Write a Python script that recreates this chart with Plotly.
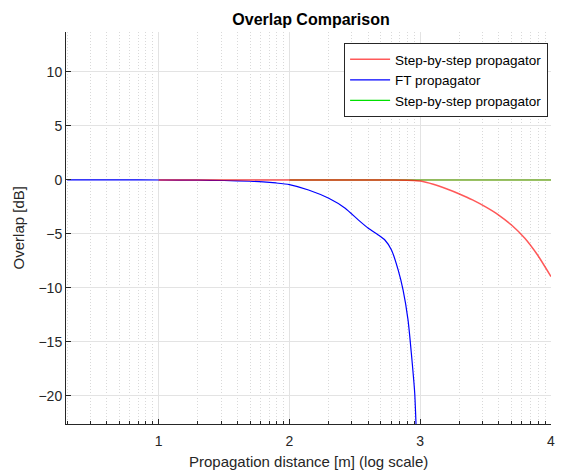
import plotly.graph_objects as go

# ---- data (x in metres, overlap in dB) ----
blue_x = [2, 5, 10, 20, 31.6, 50, 63, 79, 100, 140, 200, 267, 336, 401, 478, 537, 603, 678, 740, 807, 855, 908, 935]
blue_y = [0, 0, -0.005, -0.02, -0.05, -0.12, -0.18, -0.28, -0.43, -0.93, -1.70, -2.62, -3.70, -4.48, -5.09,
          -5.56, -6.48, -8.33, -10.2, -12.96, -16.0, -19.75, -23.5]

red_x = [10, 100, 500, 794, 891, 1000, 1259, 1585, 1995, 2512, 3162, 3981, 5012, 6310, 7943, 10000]
red_y = [0, 0, 0, -0.02, -0.05, -0.1, -0.4, -0.82, -1.3, -1.85, -2.5, -3.25, -4.2, -5.4, -7.0, -8.95]

green_x = [100, 1000, 10000]
green_y = [0, 0, 0]

names = ["Step-by-step propagator", "FT propagator", "Step-by-step propagator"]
x_tickvals = [10, 100, 1000, 10000]
x_ticktext = ["1", "2", "3", "4"]
y_tickvals = [-20, -15, -10, -5, 0, 5, 10]

FONT = "Liberation Sans, Arial, Helvetica, sans-serif"
AX = "#262626"

minor_vals = [m * 10 ** d for d in range(0, 4) for m in range(2, 10)]

fig = go.Figure()
fig.add_trace(go.Scatter(x=blue_x, y=blue_y, mode="lines", name=names[1],
                         line=dict(color="#0000ff", width=1.2, shape="spline", smoothing=0.5),
                         legendrank=2))
fig.add_trace(go.Scatter(x=green_x, y=green_y, mode="lines", name=names[2], showlegend=False,
                         line=dict(color="#77ac30", width=1.5)))
fig.add_trace(go.Scatter(x=red_x, y=red_y, mode="lines", name=names[0], opacity=0.65,
                         line=dict(color="#ff0000", width=1.5, shape="spline", smoothing=0.4),
                         legendrank=1))
fig.add_trace(go.Scatter(x=[None], y=[None], mode="lines", name=names[2],
                         line=dict(color="#00e000", width=1.2), legendrank=3))

fig.update_layout(
    width=564, height=472,
    margin=dict(l=66, r=9, t=32, b=48),
    paper_bgcolor="white", plot_bgcolor="white",
    font=dict(family=FONT, size=14, color=AX),
    title=dict(text="<b>Overlap Comparison</b>", x=311 / 564, xanchor="center",
               y=1 - 19 / 472, yanchor="middle", font=dict(size=16, color="black")),
    showlegend=True,
    legend=dict(x=0.994, xanchor="right", y=0.972, yanchor="top",
                bgcolor="white", bordercolor=AX, borderwidth=1, itemwidth=40,
                font=dict(size=13.5, color="black"), tracegroupgap=0),
    xaxis=dict(type="log", range=[0.292, 4], tickvals=x_tickvals, ticktext=x_ticktext,
               ticks="inside", ticklen=5, tickcolor=AX, showline=True, linecolor=AX, linewidth=1,
               showgrid=True, gridcolor="#e3e3e3", gridwidth=1, zeroline=False,
               tickfont=dict(size=14), ticklabelstandoff=4,
               minor=dict(tickvals=minor_vals, ticks="inside", ticklen=3, tickcolor=AX,
                          showgrid=True, gridcolor="#d9d9d9", griddash="1px,2px", gridwidth=1)),
    yaxis=dict(range=[-22.6, 13.7], tickvals=y_tickvals, ticks="inside", ticklen=5, tickcolor=AX,
               showline=True, linecolor=AX, linewidth=1, showgrid=True, gridcolor="#e3e3e3",
               gridwidth=1, zeroline=False, tickfont=dict(size=14)),
    annotations=[
        dict(text="Propagation distance [m] (log scale)", xref="paper", yref="paper",
             x=0.5, y=(424 - 461) / 392, xanchor="center", yanchor="middle", showarrow=False,
             font=dict(size=15, color=AX)),
        dict(text="Overlap [dB]", xref="paper", yref="paper", textangle=-90,
             x=(18 - 66) / 489, y=0.5, xanchor="center", yanchor="middle", showarrow=False,
             font=dict(size=15, color=AX)),
    ],
)

fig.write_html("out.html")
